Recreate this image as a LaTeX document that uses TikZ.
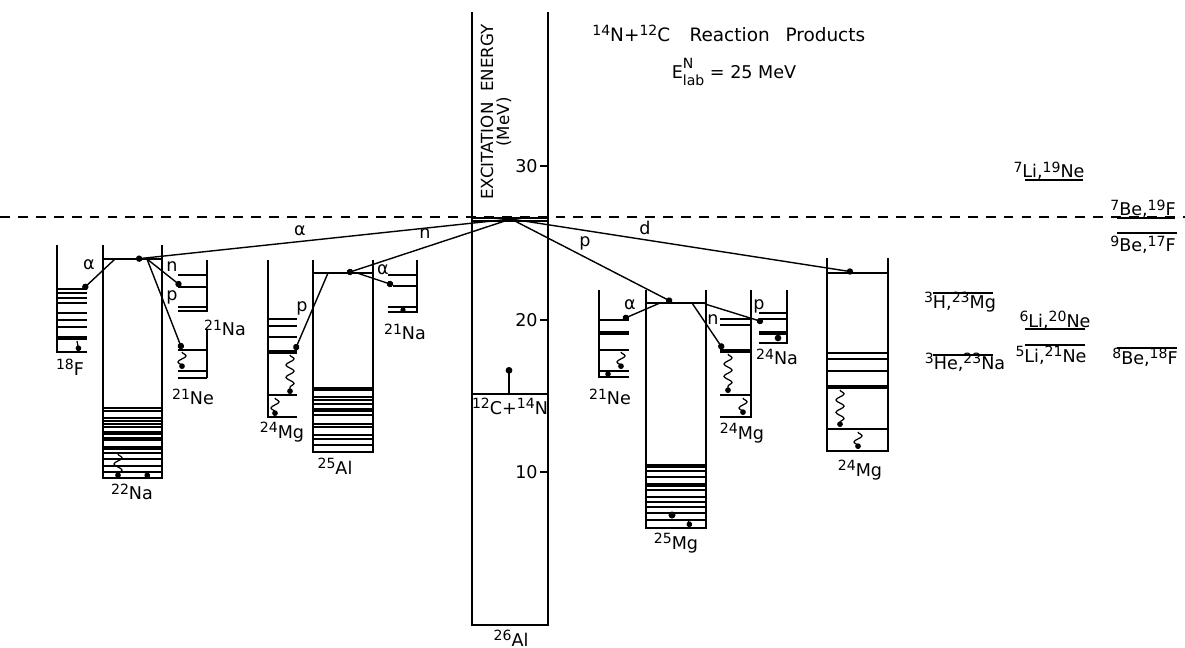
\documentclass[tikz,border=0pt]{standalone}
\usepackage{fontspec}
\setmainfont{DejaVu Sans}
\usetikzlibrary{arrows.meta, decorations.pathmorphing}

% isotope label with raised mass number
\newcommand{\nuc}[2]{\raisebox{0.6ex}{\fontsize{8}{9}\selectfont #1}#2}

\tikzset{
  lvl/.style={line width=0.8pt},
  thk/.style={line width=2pt},
  emit/.style={line width=0.8pt, -{Circle[length=3.6pt]}},
  gam/.style={line width=0.7pt, decorate, decoration={snake, amplitude=2.3pt, segment length=7pt, post length=1.5pt}, -{Circle[length=3.2pt]}},
  lab/.style={font=\fontsize{10}{11}\selectfont, inner sep=0pt},
  part/.style={font=\fontsize{10}{11}\selectfont, inner sep=0pt},
}

\begin{document}
\begin{tikzpicture}[x=0.02cm, y=-0.02cm]
    \useasboundingbox (0,0) rectangle (1185,648);

    % Threshold line (dashed)
    \draw[line width=0.9pt, dash pattern=on 5.6pt off 4.6pt] (0,217) -- (1185,217);

    % Title
    \node[anchor=west, font=\fontsize{10.5}{12}\selectfont, inner sep=0pt] (ttl) at (592,33)
        {\nuc{14}{N}+\nuc{12}{C}\hspace{11pt}Reaction\hspace{9pt}Products};
    \node[font=\fontsize{10}{12}\selectfont, inner sep=0pt] (elab) at (734,72)
        {E\makebox[0pt][l]{\raisebox{1.1ex}{\fontsize{8}{8}\selectfont N}}\raisebox{-0.7ex}{\fontsize{8}{8}\selectfont lab} = 25 MeV};

    % COMPOUND NUCLEUS 26Al (energy column)
    \draw[lvl] (472,12) -- (472,625) -- (548,625) -- (548,12);
    \draw[lvl] (472,218) -- (548,218);
    \draw[lvl] (472,221) -- (548,221);
    \foreach \yy/\ee in {166/30, 320/20, 472/10} {
        \draw[lvl] (540,\yy) -- (548,\yy);
        \node[lab, anchor=east] (tick\ee) at (538,\yy) {\ee};
    }
    \node[part, rotate=90, font=\fontsize{9.5}{10}\selectfont] (exc) at (487,112) {EXCITATION\ \ ENERGY};
    \node[part, rotate=90, font=\fontsize{9.5}{10}\selectfont] (mev) at (504,122) {(MeV)};
    \draw[lvl] (472,394) -- (548,394);
    \coordinate (entr) at (509,394);
    \coordinate (cms) at (509,367);
    \draw[lvl, -{Circle[length=3.8pt]}] (entr) -- (cms);
    \node[lab, anchor=north] (entrlab) at (510,398) {\nuc{12}{C}+\nuc{14}{N}};
    \node[lab] (al26lab) at (511,638) {\nuc{26}{Al}};

    % First-step emission from 26Al
    \coordinate (src) at (511,219);
    \coordinate (na22) at (136,259);
    \coordinate (al25) at (347,273);
    \coordinate (mg25) at (672,302);
    \coordinate (mg24c) at (853,272);
    \draw[emit] (src) -- (na22);
    \draw[emit] (src) -- (al25);
    \draw[emit] (src) -- (mg25);
    \draw[emit] (src) -- (mg24c);
    \node[part] (lalpha) at (300,231) {α};
    \node[part] (ln) at (425,234) {n};
    \node[part] (lp) at (585,243) {p};
    \node[part] (ld) at (645,228) {d};

    % 22Na
    \draw[lvl] (103,245) -- (103,478) -- (162,478) -- (162,245);
    \draw[lvl] (103,259) -- (162,259);
    \foreach \yy in {408,411,418,421,424,427,438,440,453,459,466,472}
        \draw[lvl] (103,\yy) -- (162,\yy);
    \foreach \yy in {433,448}
        \draw[thk] (103,\yy) -- (162,\yy);
    \coordinate (na22g1) at (118,454);
    \coordinate (na22g0) at (118,478);
    \draw[gam] (na22g1) -- (na22g0);
    \coordinate (na22h1) at (146,471);
    \coordinate (na22h0) at (148,478);
    \draw[gam] (na22h1) -- (na22h0);
    \node[lab] (na22lab) at (132,492) {\nuc{22}{Na}};

    % 18F
    \draw[lvl] (57,245) -- (57,352) -- (87,352);
    \foreach \yy in {293,298,303,313,320,327}
        \draw[lvl] (57,\yy) -- (87,\yy);
    \draw[line width=1.3pt] (57,289) -- (87,289);
    \draw[thk] (57,338) -- (87,338);
    \coordinate (f18g1) at (77,341);
    \coordinate (f18g0) at (79,351);
    \draw[gam] (f18g1) -- (f18g0);
    \node[lab] (f18lab) at (70,367) {\nuc{18}{F}};

    % 21Na and 21Ne from 22Na
    \draw[lvl] (207,260) -- (207,312);
    \foreach \yy in {275,287,307,311}
        \draw[lvl] (178,\yy) -- (207,\yy);
    \node[lab] (na21alab) at (225,328) {\nuc{21}{Na}};
    \draw[lvl] (207,330) -- (207,378);
    \foreach \yy in {350,378}
        \draw[lvl] (178,\yy) -- (207,\yy);
    \draw[line width=1.3pt] (178,371) -- (207,371);
    \coordinate (ne21ag1) at (182,352);
    \coordinate (ne21ag0) at (182,369);
    \draw[gam] (ne21ag1) -- (ne21ag0);
    \node[lab] (ne21alab) at (193,397) {\nuc{21}{Ne}};

    % Second step from 22Na
    \coordinate (na22a) at (115,259);
    \coordinate (na22b) at (147,259);
    \coordinate (f18) at (83,289);
    \coordinate (na21a) at (181,286);
    \coordinate (ne21a) at (182,349);
    \draw[emit] (na22a) -- (f18);
    \draw[emit] (na22b) -- (na21a);
    \draw[emit] (na22b) -- (ne21a);
    \node[part] (la1) at (89,265) {α};
    \node[part] (ln1) at (172,267) {n};
    \node[part] (lp1) at (172,297) {p};

    % 25Al
    \draw[lvl] (313,260) -- (313,452) -- (373,452) -- (373,260);
    \draw[lvl] (313,273) -- (373,273);
    \foreach \yy in {397,400,404,409,411,415,424,427,435,439,445}
        \draw[lvl] (313,\yy) -- (373,\yy);
    \draw[thk] (313,389) -- (373,389);
    \node[lab] (al25lab) at (335,466) {\nuc{25}{Al}};

    % 24Mg from 25Al
    \draw[lvl] (268,260) -- (268,417) -- (297,417);
    \foreach \yy in {319,326,337,395}
        \draw[lvl] (268,\yy) -- (297,\yy);
    \draw[thk] (268,352) -- (297,352);
    \coordinate (mg24ag1) at (290,355);
    \coordinate (mg24ag0) at (290,394);
    \draw[gam] (mg24ag1) -- (mg24ag0);
    \coordinate (mg24ah1) at (275,398);
    \coordinate (mg24ah0) at (275,416);
    \draw[gam] (mg24ah1) -- (mg24ah0);
    \node[lab] (mg24alab) at (282,432) {\nuc{24}{Mg}};

    % 21Na from 25Al
    \draw[lvl] (417,260) -- (417,313);
    \foreach \xx/\yy in {388/275,393/286,388/307,388/312}
        \draw[lvl] (\xx,\yy) -- (417,\yy);
    \fill (403,310) circle (1.5pt);
    \node[lab] (na21blab) at (405,332) {\nuc{21}{Na}};

    % Second step from 25Al
    \coordinate (al25p) at (328,273);
    \coordinate (al25a) at (357,273);
    \coordinate (mg24a) at (295,350);
    \coordinate (na21b) at (393,285);
    \draw[emit] (al25p) -- (mg24a);
    \draw[emit] (al25a) -- (na21b);
    \node[part] (lp2) at (302,308) {p};
    \node[part] (la2) at (383,270) {α};

    % 25Mg
    \draw[lvl] (646,290) -- (646,528) -- (706,528) -- (706,290);
    \draw[lvl] (646,303) -- (706,303);
    \foreach \yy in {471,477,490,497,502,507,513,520}
        \draw[lvl] (646,\yy) -- (706,\yy);
    \foreach \yy in {466,485}
        \draw[thk] (646,\yy) -- (706,\yy);
    \fill (672,515) circle (2pt);
    \coordinate (mg25h1) at (688,519);
    \coordinate (mg25h0) at (690,527);
    \draw[gam] (mg25h1) -- (mg25h0);
    \node[lab] (mg25lab) at (676,543) {\nuc{25}{Mg}};

    % 21Ne from 25Mg
    \draw[lvl] (599,290) -- (599,377) -- (629,377);
    \foreach \yy in {320,350,371}
        \draw[lvl] (599,\yy) -- (629,\yy);
    \draw[thk] (599,333) -- (629,333);
    \coordinate (ne21bg1) at (621,352);
    \coordinate (ne21bg0) at (621,369);
    \draw[gam] (ne21bg1) -- (ne21bg0);
    \fill (608,374) circle (1.6pt);
    \node[lab] (ne21blab) at (610,397) {\nuc{21}{Ne}};

    % 24Mg from 25Mg
    \draw[lvl] (751,290) -- (751,417) -- (720,417);
    \foreach \yy in {319,325,395}
        \draw[lvl] (720,\yy) -- (751,\yy);
    \draw[thk] (720,351) -- (751,351);
    \coordinate (mg24bg1) at (728,354);
    \coordinate (mg24bg0) at (728,393);
    \draw[gam] (mg24bg1) -- (mg24bg0);
    \coordinate (mg24bh1) at (743,398);
    \coordinate (mg24bh0) at (743,415);
    \draw[gam] (mg24bh1) -- (mg24bh0);
    \node[lab] (mg24blab) at (742,433) {\nuc{24}{Mg}};

    % 24Na from 25Mg
    \draw[lvl] (787,290) -- (787,343) -- (759,343);
    \foreach \yy in {313,319}
        \draw[lvl] (759,\yy) -- (787,\yy);
    \draw[thk] (759,333) -- (787,333);
    \fill (778,338) circle (1.9pt);
    \node[lab] (na24lab) at (777,357) {\nuc{24}{Na}};

    % Second step from 25Mg
    \coordinate (mg25a) at (660,303);
    \coordinate (mg25n) at (692,303);
    \coordinate (mg25p) at (705,304);
    \coordinate (ne21b) at (623,319);
    \coordinate (mg24b) at (723,349);
    \coordinate (na24) at (763,322);
    \draw[emit] (mg25a) -- (ne21b);
    \draw[emit] (mg25n) -- (mg24b);
    \draw[emit] (mg25p) -- (na24);
    \node[part] (la3) at (630,305) {α};
    \node[part] (ln3) at (713,320) {n};
    \node[part] (lp3) at (759,306) {p};

    % 24Mg from d emission
    \draw[lvl] (827,258) -- (827,451) -- (888,451) -- (888,258);
    \draw[lvl] (827,273) -- (888,273);
    \foreach \yy in {353,359,371,429}
        \draw[lvl] (827,\yy) -- (888,\yy);
    \draw[thk] (827,387) -- (888,387);
    \coordinate (mg24cg1) at (840,390);
    \coordinate (mg24cg0) at (840,427);
    \draw[gam] (mg24cg1) -- (mg24cg0);
    \coordinate (mg24ch1) at (858,432);
    \coordinate (mg24ch0) at (858,449);
    \draw[gam] (mg24ch1) -- (mg24ch0);
    \node[lab] (mg24clab) at (860,470) {\nuc{24}{Mg}};

    % Thresholds of other exit channels
    \node[lab, anchor=base] (li7) at (1049,178) {\nuc{7}{Li},\nuc{19}{Ne}};
    \draw[lvl] (1025,180) -- (1083,180);
    \node[lab, anchor=base] (be7) at (1143,216) {\nuc{7}{Be},\nuc{19}{F}};
    \draw[lvl] (1117,218) -- (1175,218);
    \node[lab, anchor=base] (be9) at (1143,252) {\nuc{9}{Be},\nuc{17}{F}};
    \draw[lvl] (1117,233) -- (1177,233);
    \node[lab, anchor=base] (h3) at (960,308) {\nuc{3}{H},\nuc{23}{Mg}};
    \draw[lvl] (933,293) -- (993,293);
    \node[lab, anchor=base] (li6) at (1055,327) {\nuc{6}{Li},\nuc{20}{Ne}};
    \draw[lvl] (1025,329) -- (1085,329);
    \node[lab, anchor=base] (li5) at (1051,362) {\nuc{5}{Li},\nuc{21}{Ne}};
    \draw[lvl] (1025,345) -- (1085,345);
    \node[lab, anchor=base] (he3) at (965,369) {\nuc{3}{He},\nuc{23}{Na}};
    \draw[lvl] (933,355) -- (993,355);
    \node[lab, anchor=base] (be8) at (1145,364) {\nuc{8}{Be},\nuc{18}{F}};
    \draw[lvl] (1117,348) -- (1177,348);
\end{tikzpicture}
\end{document}
